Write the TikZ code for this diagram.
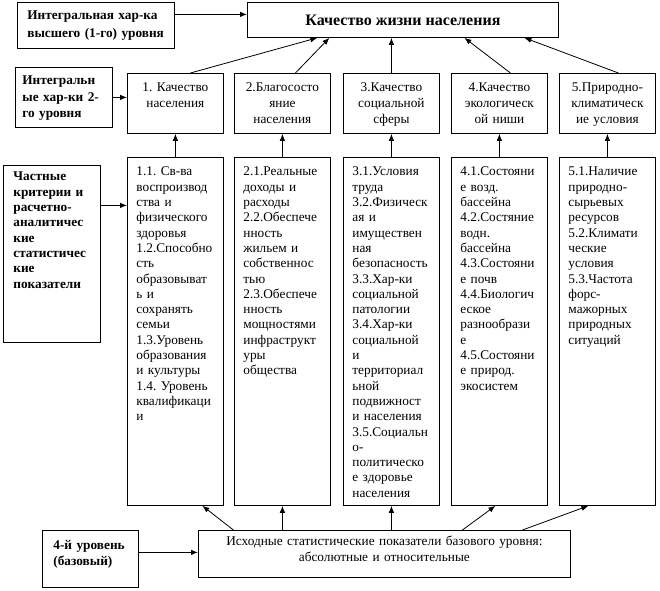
\documentclass[tikz,border=0pt]{standalone}
\usepackage{fontspec}
\setmainfont{Liberation Serif}
\frenchspacing
\usetikzlibrary{arrows.meta,positioning}
\tikzset{box/.style={draw,line width=0.8pt,anchor=north west,inner ysep=4pt},
lev/.style={box,align=left,inner xsep=10pt,font=\fontsize{13.3}{15.3}\selectfont\bfseries},
qual/.style={box,align=center,inner xsep=3pt,text width=90pt,text height=14.5pt,text depth=37.5pt,font=\fontsize{13.3}{15.8}\selectfont},
crit/.style={box,align=left,inner xsep=9pt,text width=78pt,text height=14.5pt,text depth=325.5pt,font=\fontsize{13.3}{15.3}\selectfont}}
\tikzstyle{arrow} = [line width=0.8pt,-{Latex[length=7pt,width=5.5pt]}]

\begin{document}
\begin{tikzpicture}[x=1pt,y=-1pt]
	\useasboundingbox (0,0) rectangle (660,590);
	% 1-й уровень
	\node[box,minimum width=311pt,minimum height=35pt,inner sep=0pt,font=\fontsize{16}{18}\selectfont\bfseries] (kzn) at (247,2) {Качество жизни населения};
	\node[lev,text width=137pt,text height=13pt,text depth=25pt,font=\fontsize{13.3}{18}\selectfont\bfseries] (lev1) at (17,2) {Интегральная хар-ка\\высшего (1-го) уровня};
	% 2-й уровень
	\node[lev,text width=83pt,inner xsep=7pt,text height=13.5pt,text depth=38.5pt,font=\fontsize{13.3}{16.5}\selectfont\bfseries] (lev2) at (15,67) {Интегральн\\ые хар-ки 2-\\го уровня};
	\node[qual] (q1) at (127,73) {1. Качество\\населения};
	\node[qual] (q2) at (234,73) {2.Благососто\\яние\\населения};
	\node[qual] (q3) at (343,73) {3.Качество\\социальной\\сферы};
	\node[qual] (q4) at (451,73) {4.Качество\\экологическ\\ой ниши};
	\node[qual] (q5) at (559,73) {5.Природно-\\климатическ\\ие условия};
	% 3-й уровень
	\node[lev,text width=77pt,text height=11.5pt,text depth=157.5pt] (lev3) at (3,165) {Частные\\критерии и\\расчетно-\\аналитичес\\кие\\статистичес\\кие\\показатели};
	\node[crit] (c1) at (127,157) {1.1. Св-ва\\воспроизвод\\ства и\\физического\\здоровья\\1.2.Способно\\сть\\образовыват\\ь и\\сохранять\\семьи\\1.3.Уровень\\образования\\и культуры\\1.4. Уровень\\квалификаци\\и};
	\node[crit] (c2) at (234,157) {2.1.Реальные\\доходы и\\расходы\\2.2.Обеспече\\нность\\жильем и\\собственнос\\тью\\2.3.Обеспече\\нность\\мощностями\\инфраструкт\\уры\\общества};
	\node[crit] (c3) at (343,157) {3.1.Условия\\труда\\3.2.Физическ\\ая и\\имуществен\\ная\\безопасность\\3.3.Хар-ки\\социальной\\патологии\\3.4.Хар-ки\\социальной\\и\\территориал\\ьной\\подвижност\\и населения\\3.5.Социальн\\о-\\политическо\\е здоровье\\населения};
	\node[crit] (c4) at (451,157) {4.1.Состояни\\е возд.\\бассейна\\4.2.Состяние\\водн.\\бассейна\\4.3.Состояни\\е почв\\4.4.Биологич\\еское\\разнообрази\\е\\4.5.Состояни\\е природ.\\экосистем};
	\node[crit] (c5) at (559,157) {5.1.Наличие\\природно-\\сырьевых\\ресурсов\\5.2.Климати\\ческие\\условия\\5.3.Частота\\форс-\\мажорных\\природных\\ситуаций};
	% 4-й уровень
	\node[lev,text width=74pt,inner xsep=11pt,text height=15.5pt,text depth=33.5pt] (lev4) at (42,530) {4-й уровень\\(базовый)};
	\node[box,align=center,inner xsep=6pt,text width=360pt,text height=11.5pt,text depth=27.5pt,font=\fontsize{13.3}{15.5}\selectfont] (base) at (198,530) {Исходные статистические показатели базового уровня:\\абсолютные и относительные};

	\coordinate (a1) at ([yshift=11pt]lev1.east);
	\coordinate (a3) at ([yshift=48.5pt]lev3.east);
	\coordinate (a4) at ([yshift=6.5pt]lev4.east);
	\draw[arrow] (a1) -- (a1 -| kzn.west);
	\draw[arrow] (lev2.east) -- (lev2.east -| q1.west);
	\draw[arrow] (a3) -- (a3 -| c1.west);
	\draw[arrow] (a4) -- (a4 -| base.west);

	\draw[arrow] ([xshift=15pt]q1.north) -- ([xshift=-85.5pt]kzn.south);
	\draw[arrow] ([xshift=13pt]q2.north) -- ([xshift=-73.5pt]kzn.south);
	\draw[arrow] (q3.north) -- (q3.north |- kzn.south);
	\draw[arrow] ([xshift=11pt]q4.north) -- ([xshift=61.5pt]kzn.south);
	\draw[arrow] ([xshift=11pt]q5.north) -- ([xshift=121.5pt]kzn.south);

	\draw[arrow] (c1.north) -- (q1.south);
	\draw[arrow] (c2.north) -- (q2.south);
	\draw[arrow] (c3.north) -- (q3.south);
	\draw[arrow] (c4.north) -- (q4.south);
	\draw[arrow] (c5.north) -- (q5.south);

	\draw[arrow] ([xshift=-151pt]base.north) -- ([xshift=27pt]c1.south);
	\draw[arrow] (base.north -| c2.south) -- (c2.south);
	\draw[arrow] (base.north -| c3.south) -- (c3.south);
	\draw[arrow] ([xshift=78pt]base.north) -- ([xshift=-4pt]c4.south);
	\draw[arrow] ([xshift=138pt]base.north) -- ([xshift=-19pt]c5.south);
\end{tikzpicture}
\end{document}
